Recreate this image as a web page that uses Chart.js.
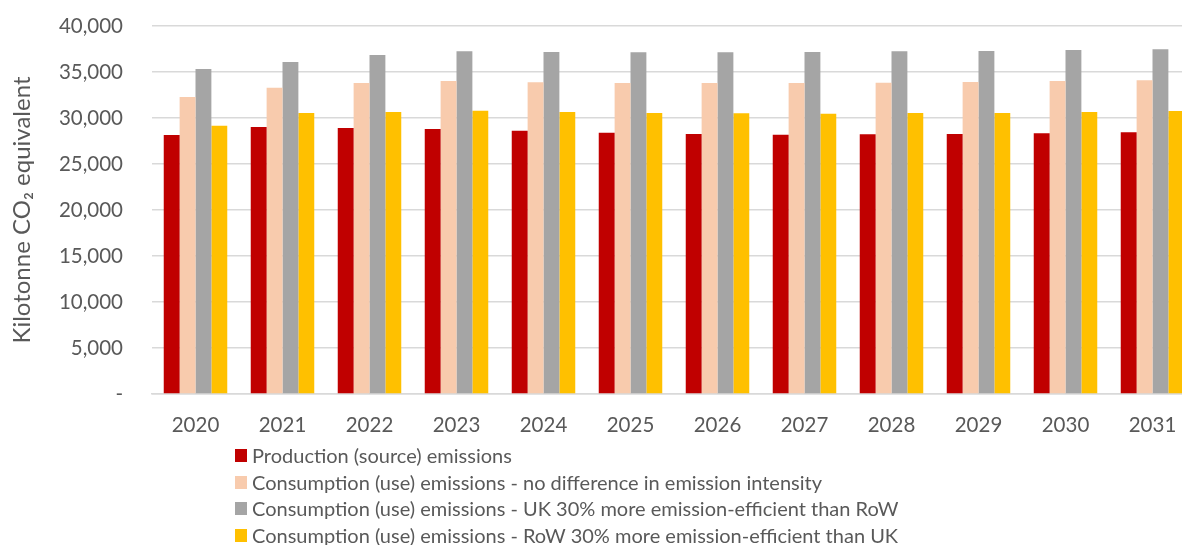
<!DOCTYPE html>
<html>
<head>
<meta charset="utf-8">
<script src="https://cdn.jsdelivr.net/npm/chart.js@4.4.1/dist/chart.umd.min.js"></script>
<style>
  html, body { margin: 0; padding: 0; background: #ffffff; overflow: hidden; }
  #wrap { position: relative; width: 1196px; height: 545px; }
  #legend { position: absolute; left: 235px; top: 442px; font-family: Lato, "Open Sans", sans-serif; font-size: 20px; color: #595959; }
  .item { position: absolute; left: 0; white-space: nowrap; height: 26px; line-height: 26px; }
  .box { position: absolute; left: 0; top: 7px; width: 12px; height: 13px; }
  .label { position: absolute; left: 17px; top: 0; }
</style>
</head>
<body>
<div id="wrap">
  <canvas id="chart" width="1196" height="545"></canvas>
  <div id="legend"></div>
</div>
<script>
// Years on the horizontal axis
const years = ['2020', '2021', '2022', '2023', '2024', '2025', '2026', '2027', '2028', '2029', '2030', '2031'];

// Emissions, kilotonne CO2 equivalent
const production = [28150, 29020, 28910, 28800, 28620, 28410, 28260, 28190, 28230, 28260, 28330, 28440];
const consumptionNoDiff = [32280, 33300, 33800, 34020, 33880, 33800, 33800, 33800, 33840, 33910, 34020, 34090];
const consumptionUkEfficient = [35330, 36090, 36850, 37250, 37170, 37140, 37140, 37170, 37250, 37280, 37390, 37470];
const consumptionRowEfficient = [29160, 30540, 30650, 30800, 30650, 30540, 30510, 30470, 30540, 30540, 30650, 30760];

const seriesNames = [
  'Production (source) emissions',
  'Consumption (use) emissions - no difference in emission intensity',
  'Consumption (use) emissions - UK 30% more emission-efficient than RoW',
  'Consumption (use) emissions - RoW 30% more emission-efficient than UK'
];
const seriesColors = ['#C00000', '#F8CBAD', '#A5A5A5', '#FFC000'];
const seriesValues = [production, consumptionNoDiff, consumptionUkEfficient, consumptionRowEfficient];

// Y-axis tick values
const yTicks = [0, 5000, 10000, 15000, 20000, 25000, 30000, 35000, 40000];

const textColor = '#595959';
const fontFamily = 'Lato, "Open Sans", sans-serif';

const chart = new Chart(document.getElementById('chart'), {
  type: 'bar',
  data: {
    labels: years,
    datasets: seriesValues.map((vals, i) => ({
      label: seriesNames[i],
      data: vals,
      backgroundColor: seriesColors[i],
      borderWidth: 0,
      categoryPercentage: 0.73,
      barPercentage: 1.0
    }))
  },
  options: {
    responsive: false,
    animation: false,
    devicePixelRatio: 1,
    layout: { padding: { top: 26, right: 0, bottom: 91, left: 0 } },
    plugins: {
      legend: { display: false },
      tooltip: { enabled: false }
    },
    scales: {
      x: {
        grid: { display: false, drawTicks: false },
        border: { display: true, color: '#d9d9d9', width: 1.5 },
        ticks: {
          color: textColor,
          font: { family: fontFamily, size: 20.5 },
          padding: 19,
          maxRotation: 0
        },
        afterFit: (scale) => { scale.height = 60; }
      },
      y: {
        min: 0,
        max: 40000,
        afterBuildTicks: (scale) => { scale.ticks = yTicks.map(v => ({ value: v })); },
        grid: { color: '#d9d9d9', lineWidth: 1.5, drawTicks: false },
        border: { display: false },
        ticks: {
          color: textColor,
          font: { family: fontFamily, size: 20.5 },
          padding: 29,
          callback: (v) => v === 0 ? '-' : v.toLocaleString('en-US')
        },
        title: {
          display: true,
          text: 'Kilotonne CO\u2082 equivalent',
          color: textColor,
          font: { family: fontFamily, size: 24 },
          padding: { top: 8, bottom: 0 }
        },
        afterFit: (scale) => {
          scale.width = 152;
          scale.paddingTop = 0;
          scale.paddingBottom = 0;
        }
      }
    }
  }
});

// Legend stacked in one column under the axis, built from the chart's datasets
const legend = document.getElementById('legend');
chart.data.datasets.forEach((ds, i) => {
  const item = document.createElement('div');
  item.className = 'item';
  item.style.top = (i * 26.5) + 'px';
  const box = document.createElement('span');
  box.className = 'box';
  box.style.background = ds.backgroundColor;
  const label = document.createElement('span');
  label.className = 'label';
  label.textContent = ds.label;
  item.appendChild(box);
  item.appendChild(label);
  legend.appendChild(item);
});
</script>
</body>
</html>
